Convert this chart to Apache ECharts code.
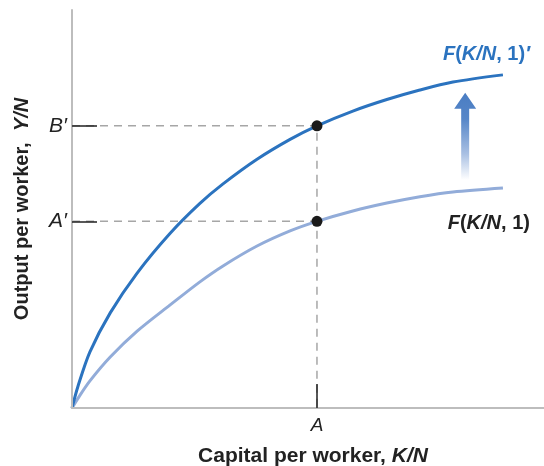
<!DOCTYPE html>
<html>
<head>
<meta charset="utf-8">
<script src="https://cdn.jsdelivr.net/npm/echarts@6/dist/echarts.min.js"></script>
<style>html,body{margin:0;padding:0;background:#fff}#c{width:544px;height:466px}</style>
</head>
<body>
<div id="c"></div>
<script>
// Capital per worker (x) sample positions, arbitrary units 0..100
const capital = [0, 1.3, 3.8, 8.1, 13.8, 20.8, 27.1, 32.0, 39.2, 46.2, 51.9, 59.5, 66.7, 73.7, 80.7, 91.3];
// Output per worker after the shift, F(K/N,1)'
const outputHigh = [0, 5.6, 14.1, 23.9, 33.9, 43.9, 51.4, 56.3, 62.5, 67.5, 70.9, 74.6, 77.5, 79.9, 81.9, 83.7];
// Output per worker originally, F(K/N,1)
const outputLow = [0, 2.5, 6.8, 12.8, 19.3, 25.9, 31.7, 35.7, 40.7, 44.5, 46.9, 49.5, 51.5, 53.1, 54.3, 55.3];
// Marked levels
const capitalA = 51.9;
const levelAprime = 46.9;
const levelBprime = 70.9;
const xTickLabels = ['A'];
const yTickLabels = ['A\u2032', 'B\u2032'];
// Shift arrow (x, from y, to y)
const arrowX = 83.3;
const arrowFrom = 57.3;
const arrowTo = 79.2;

const FONT = 'Liberation Sans, Arial, Helvetica, sans-serif';
const highData = capital.map((x, i) => [x, outputHigh[i]]);
const lowData = capital.map((x, i) => [x, outputLow[i]]);

const chart = echarts.init(document.getElementById('c'), null, {renderer: 'canvas'});
chart.setOption({
  animation: false,
  backgroundColor: '#fff',
  grid: {left: 72, top: 10, right: 0, bottom: 58, outerBoundsMode: 'none', containLabel: false},
  xAxis: {
    type: 'value', min: 0, max: 100, z: 5,
    name: '{b|Capital per worker, }{i|K/N}',
    nameLocation: 'middle', nameGap: 38,
    nameTextStyle: {padding: [0, 0, 0, 10], rich: {
      b: {fontFamily: FONT, fontWeight: 'bold', fontSize: 21, color: '#222'},
      i: {fontFamily: FONT, fontWeight: 'bold', fontStyle: 'italic', fontSize: 21, color: '#222'}
    }},
    axisLine: {show: true, lineStyle: {color: '#bdbdbd', width: 2}},
    splitLine: {show: false},
    axisTick: {show: true, inside: true, length: 24, customValues: [capitalA], lineStyle: {color: '#222', width: 1.5}},
    axisLabel: {show: true, customValues: [capitalA], formatter: () => xTickLabels[0],
      fontFamily: FONT, fontStyle: 'italic', fontSize: 19, color: '#222', margin: 8}
  },
  yAxis: {
    type: 'value', min: 0, max: 100, z: 5,
    name: '{b|Output per worker,  }{i|Y/N}',
    nameLocation: 'middle', nameGap: 40, nameRotate: 90,
    nameTextStyle: {rich: {
      b: {fontFamily: FONT, fontWeight: 'bold', fontSize: 20, color: '#222'},
      i: {fontFamily: FONT, fontWeight: 'bold', fontStyle: 'italic', fontSize: 20, color: '#222'}
    }},
    axisLine: {show: true, lineStyle: {color: '#bdbdbd', width: 2}},
    splitLine: {show: false},
    axisTick: {show: true, inside: true, length: 25, customValues: [levelAprime, levelBprime], lineStyle: {color: '#222', width: 1.5}},
    axisLabel: {show: true, customValues: [levelAprime, levelBprime],
      formatter: (v) => (Math.abs(v - levelAprime) < 0.01 ? yTickLabels[0] : yTickLabels[1]),
      fontFamily: FONT, fontStyle: 'italic', fontSize: 21, color: '#222', margin: 5}
  },
  series: [
    {
      type: 'line', z: 1, silent: true, showSymbol: false, symbol: 'none',
      data: [[0, levelBprime], [capitalA, levelBprime], [capitalA, 0]],
      lineStyle: {color: '#a6a6a6', width: 1.5, type: [8, 6]}
    },
    {
      type: 'line', z: 1, silent: true, showSymbol: false, symbol: 'none',
      data: [[0, levelAprime], [capitalA, levelAprime]],
      lineStyle: {color: '#a6a6a6', width: 1.5, type: [8, 6]}
    },
    {
      type: 'line', z: 3, silent: true, smooth: 0.3, showSymbol: false, symbol: 'none',
      data: lowData,
      lineStyle: {color: '#92acd9', width: 3},
      endLabel: {show: true, formatter: '{i|F}{n|(}{i|K/N}{n|, 1)}', align: 'right', verticalAlign: 'middle', offset: [19, 36],
        rich: {
          i: {fontFamily: FONT, fontWeight: 'bold', fontStyle: 'italic', fontSize: 20, color: '#222'},
          n: {fontFamily: FONT, fontWeight: 'bold', fontSize: 20, color: '#222'}
        }}
    },
    {
      type: 'line', z: 3, silent: true, smooth: 0.3, showSymbol: false, symbol: 'none',
      data: highData,
      lineStyle: {color: '#2b73bf', width: 3},
      endLabel: {show: true, formatter: '{i|F}{n|(}{i|K/N}{n|, 1)}{i|\u2032}', align: 'right', verticalAlign: 'middle', offset: [19, -20],
        rich: {
          i: {fontFamily: FONT, fontWeight: 'bold', fontStyle: 'italic', fontSize: 20, color: '#2b73bf'},
          n: {fontFamily: FONT, fontWeight: 'bold', fontSize: 20, color: '#2b73bf'}
        }}
    },
    {
      type: 'scatter', z: 6, silent: true, symbolSize: 11,
      data: [[capitalA, levelBprime], [capitalA, levelAprime]],
      itemStyle: {color: '#1a1a1a', opacity: 1}
    },
    {
      type: 'custom', z: 2, silent: true,
      data: [[arrowX, arrowFrom, arrowTo]],
      renderItem: function (params, api) {
        const base = api.coord([api.value(0), api.value(1)]);
        const tip = api.coord([api.value(0), api.value(2)]);
        const cx = base[0];
        const headLen = 16, headHalf = 11, shaftHalf = 4;
        const hb = tip[1] + headLen;
        return {
          type: 'polygon',
          shape: {points: [
            [cx, tip[1]], [cx + headHalf, hb], [cx + shaftHalf, hb],
            [cx + shaftHalf, base[1]], [cx - shaftHalf, base[1]],
            [cx - shaftHalf, hb], [cx - headHalf, hb]
          ]},
          style: {fill: {type: 'linear', x: 0, y: 0, x2: 0, y2: 1, colorStops: [
            {offset: 0, color: '#4a7dc3'}, {offset: 0.3, color: '#5686c8'},
            {offset: 0.7, color: '#a9c0e3'}, {offset: 1, color: '#ffffff'}
          ]}}
        };
      }
    }
  ]
});
</script>
</body>
</html>
